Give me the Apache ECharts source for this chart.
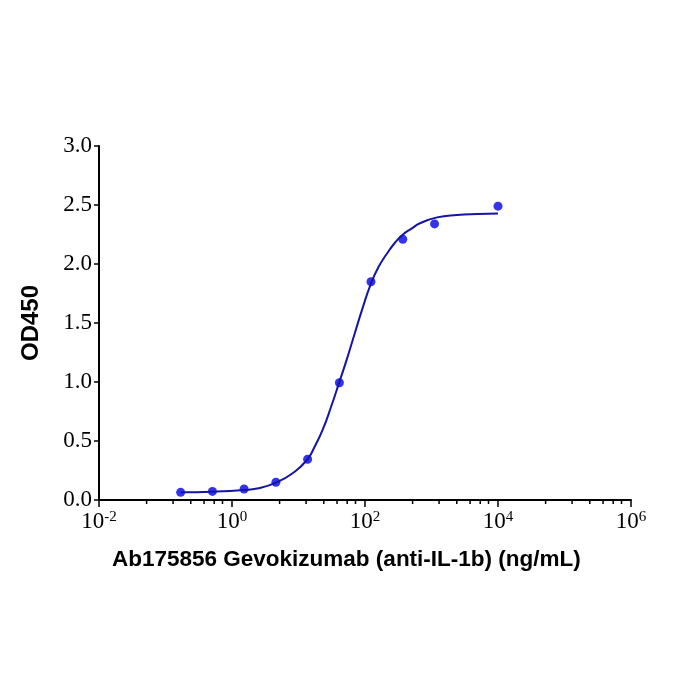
<!DOCTYPE html>
<html>
<head>
<meta charset="utf-8">
<style>
  html, body { margin: 0; padding: 0; background: #fff; }
  #main { width: 700px; height: 700px; }
</style>
<script src="https://cdn.jsdelivr.net/npm/echarts@6/dist/echarts.min.js"></script>
</head>
<body>
<div id="main"></div>
<script>
// measured points (concentration ng/mL, OD450)
var concList = [0.169, 0.508, 1.52, 4.57, 13.7, 41.2, 123, 370, 1111, 10000];
var odList = [0.065, 0.073, 0.093, 0.15, 0.345, 0.994, 1.85, 2.21, 2.34, 2.49];

// fitted curve
var fitConc = [0.169, 0.495, 1.51, 2.64, 4.59, 8.26, 13.4, 17.8, 23.3, 30.9, 40.6, 53.1, 70.8, 91.2, 122, 158, 209, 282, 372, 501, 671, 1211, 2415, 5012, 10000];
var fitOd = [0.065, 0.070, 0.085, 0.102, 0.147, 0.229, 0.339, 0.46, 0.60, 0.79, 0.99, 1.19, 1.42, 1.62, 1.83, 1.97, 2.08, 2.18, 2.25, 2.30, 2.345, 2.395, 2.415, 2.423, 2.427];

// minor tick marks on the x axis: multipliers inside each major step
var majorTicks = [0.01, 1, 100, 10000];
var minorMult = [5.2, 13, 24, 38, 54, 72];

var minorTicks = [];
for (var i = 0; i < majorTicks.length; i++) {
	for (var j = 0; j < minorMult.length; j++) {
		minorTicks.push([majorTicks[i] * minorMult[j], 0]);
	}
}

var pts = [];
for (var i = 0; i < concList.length; i++) {
	pts.push([concList[i], odList[i]]);
}
var fit = [];
for (var i = 0; i < fitConc.length; i++) {
	fit.push([fitConc[i], fitOd[i]]);
}

var myChart = echarts.init(document.getElementById('main'));

var option = {
	animation: false,
	backgroundColor: '#fff',
	title: {
		text: 'Ab175856 Gevokizumab (anti-IL-1b) (ng/mL)',
		left: 107,
		top: 543,
		textStyle: {
			fontFamily: 'Liberation Sans',
			fontWeight: 'bold',
			fontSize: 22.5,
			color: '#000'
		}
	},
	grid: {
		left: 99,
		right: 69,
		top: 146,
		bottom: 200
	},
	xAxis: {
		type: 'log',
		logBase: 10,
		min: 0.01,
		max: 1000000,
		interval: 2,
		axisLine: { onZero: false, lineStyle: { color: '#000', width: 2 } },
		axisTick: { show: true, length: 7, lineStyle: { color: '#000', width: 1.5 } },
		minorTick: { show: false },
		splitLine: { show: false },
		axisLabel: {
			margin: 10,
			formatter: function(v) {
				var e = Math.round(Math.log10(v));
				return '{b|10}{s|' + e + '}';
			},
			rich: {
				b: { fontFamily: 'Liberation Serif', fontSize: 23, color: '#000' },
				s: { fontFamily: 'Liberation Serif', fontSize: 15, color: '#000', verticalAlign: 'top' }
			}
		}
	},
	yAxis: {
		type: 'value',
		min: 0,
		max: 3,
		interval: 0.5,
		name: 'OD450',
		nameLocation: 'middle',
		nameGap: 56,
		nameTextStyle: {
			fontFamily: 'Liberation Sans',
			fontWeight: 'bold',
			fontSize: 24,
			color: '#000'
		},
		axisLine: { show: true, lineStyle: { color: '#000', width: 2 } },
		axisTick: { show: true, length: 5, lineStyle: { color: '#000', width: 1.5 } },
		splitLine: { show: false },
		axisLabel: {
			margin: 7,
			fontFamily: 'Liberation Serif',
			fontSize: 23,
			color: '#000',
			formatter: function(v) { return v.toFixed(1); }
		}
	},
	series: [{
		name: 'fit',
		type: 'line',
		data: fit,
		smooth: 0.5,
		showSymbol: false,
		lineStyle: { color: '#1414a6', width: 2 },
		silent: true
	}, {
		name: 'points',
		type: 'scatter',
		data: pts,
		symbolSize: 9,
		itemStyle: { color: '#0000e8' }
	}, {
		name: 'minorTicks',
		type: 'custom',
		silent: true,
		data: minorTicks,
		renderItem: function(params, api) {
			var p = api.coord([api.value(0), api.value(1)]);
			return {
				type: 'line',
				shape: { x1: p[0], y1: p[1], x2: p[0], y2: p[1] + 4 },
				style: { stroke: '#000', lineWidth: 1.5 }
			};
		}
	}]
};

myChart.setOption(option);
</script>
</body>
</html>
